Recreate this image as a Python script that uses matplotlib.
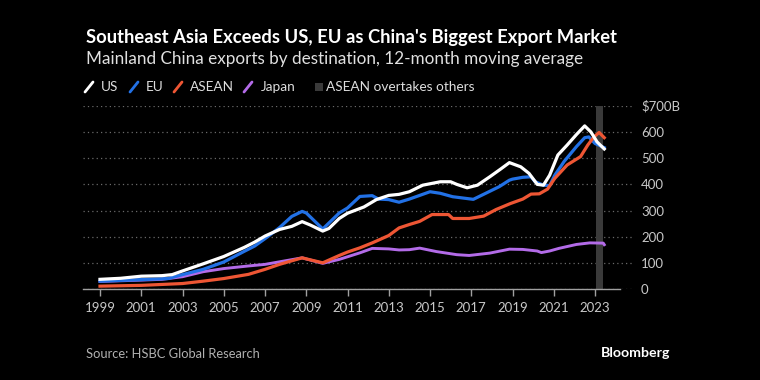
import matplotlib.pyplot as plt
from matplotlib.lines import Line2D
from matplotlib.patches import Rectangle

plt.rcParams['font.family'] = ['Lato', 'DejaVu Sans']

# values, $B (12-month moving average)
us_years = [1999.0, 2000.0, 2001.0, 2002.0, 2002.5, 2003.0, 2004.0, 2005.0, 2006.0, 2006.5,
            2007.0, 2007.7, 2008.3, 2008.8, 2009.2, 2009.8, 2010.1, 2010.6, 2011.0, 2011.8,
            2012.4, 2013.0, 2013.5, 2014.0, 2014.65, 2015.5, 2016.0, 2016.3, 2016.8, 2017.3,
            2017.9, 2018.4, 2018.85, 2019.4, 2019.8, 2020.2, 2020.5, 2020.8, 2021.2, 2021.65,
            2022.1, 2022.5, 2022.8, 2023.1, 2023.45]
us_vals = [38, 42, 50, 52, 56, 70, 97, 125, 160, 180,
           203, 228, 240, 258, 245, 222, 232, 270, 290, 314,
           342, 358, 362, 372, 397, 410, 410, 400, 387, 397,
           429, 457, 483, 467, 442, 400, 397, 435, 512, 550,
           590, 623, 600, 562, 535]

eu_years = [1999.0, 2001.0, 2002.3, 2003.0, 2004.0, 2005.0, 2006.0, 2006.5, 2007.0, 2007.7,
            2008.3, 2008.8, 2009.0, 2009.8, 2010.6, 2011.0, 2011.6, 2012.2, 2012.5, 2013.0,
            2013.5, 2014.0, 2015.0, 2015.5, 2016.1, 2016.7, 2017.1, 2017.7, 2018.35, 2018.85,
            2019.0, 2019.5, 2019.9, 2020.1, 2020.5, 2020.8, 2021.05, 2021.5, 2022.1, 2022.5,
            2022.7, 2023.0, 2023.45]
eu_vals = [31, 37, 41, 56, 76, 104, 145, 165, 193, 235,
           278, 297, 291, 230, 291, 310, 354, 357, 344, 342,
           332, 344, 372, 366, 353, 347, 343, 366, 391, 416,
           420, 427, 429, 410, 397, 395, 435, 487, 544, 578,
           581, 556, 540]

asean_years = [1999.0, 2001.0, 2003.0, 2004.0, 2005.0, 2006.2, 2007.0, 2007.7, 2008.8, 2009.0,
               2009.8, 2010.6, 2011.0, 2011.6, 2012.2, 2013.0, 2013.5, 2014.0, 2014.5, 2015.1,
               2015.9, 2016.1, 2016.9, 2017.6, 2018.2, 2018.9, 2019.5, 2019.9, 2020.3, 2020.7,
               2021.05, 2021.65, 2022.3, 2022.65, 2022.95, 2023.2, 2023.3, 2023.45]
asean_vals = [12, 15, 22, 31, 41, 57, 76, 95, 120, 116,
              101, 129, 142, 158, 177, 205, 234, 247, 259, 285,
              285, 270, 270, 279, 304, 327, 344, 363, 364, 382,
              423, 474, 506, 550, 581, 598, 590, 578]

japan_years = [1999.0, 2001.0, 2002.0, 2003.0, 2004.0, 2005.0, 2006.2, 2007.0, 2008.8, 2009.8,
               2010.6, 2011.6, 2012.2, 2013.0, 2013.5, 2014.0, 2014.5, 2015.3, 2016.3, 2016.9,
               2017.9, 2018.85, 2019.5, 2020.2, 2020.4, 2020.8, 2021.25, 2022.1, 2022.75, 2023.4,
               2023.45]
japan_vals = [30, 35, 38, 48, 67, 79, 89, 95, 120, 99,
              114, 139, 156, 154, 150, 151, 157, 144, 132, 129,
              138, 153, 152, 146, 140, 146, 156, 171, 177, 176,
              170]

band_start, band_end = 2023.03, 2023.4
year_ticks = list(range(1999, 2024, 2))
y_ticks = [0, 100, 200, 300, 400, 500, 600, 700]
y_labels = ['0', '100', '200', '300', '400', '500', '600', '$700B']

W, H = 760, 380
def fx(px):
    return px / W
def fy(py):
    return 1 - py / H

fig = plt.figure(figsize=(7.6, 3.8), dpi=100, facecolor='black')
ax = fig.add_axes([fx(83), fy(289.3), (632 - 83) / W, (289.3 - 105.7) / H])
ax.set_facecolor('black')

x0 = 1999 + (83 - 100) / 20.625
x1 = 1999 + (632 - 100) / 20.625
ax.set_xlim(x0, x1)
ax.set_ylim(0, 700)

for v in y_ticks:
    ax.axhline(v, color='#6a6a6a', lw=0.9, ls=(0, (1, 2.5)), zorder=0)
ax.axvspan(band_start, band_end, color='#3a3a3a', lw=0, zorder=1)
# bottom axis line stops short of the labels
ax.plot([x0, 1999 + (620 - 100) / 20.625], [0, 0], color='#a0a0a0', lw=1, zorder=2, clip_on=False)

ax.plot(japan_years, japan_vals, color='#b36be8', lw=2.1, zorder=3)
ax.plot(eu_years, eu_vals, color='#2271e6', lw=2.3, zorder=4)
ax.plot(asean_years, asean_vals, color='#ee5634', lw=2.3, zorder=5)
ax.plot(us_years, us_vals, color='white', lw=2.3, zorder=6)

for s in ax.spines.values():
    s.set_visible(False)
ax.set_xticks(year_ticks)
ax.set_xticklabels([str(y) for y in year_ticks])
ax.tick_params(axis='x', length=5, width=1, color='#a0a0a0', labelcolor='#c8c8c8',
               labelsize=9.5, pad=4)
ax.yaxis.tick_right()
ax.set_yticks(y_ticks)
ax.set_yticklabels(y_labels)
ax.tick_params(axis='y', length=0, labelcolor='#c8c8c8', labelsize=9.5, pad=6.5)

fig.text(fx(86), fy(37), "Southeast Asia Exceeds US, EU as China's Biggest Export Market",
         color='white', fontsize=13.2, weight='bold', va='center')
fig.text(fx(86), fy(59), "Mainland China exports by destination, 12-month moving average",
         color='#e0e0e0', fontsize=12.3, va='center')

# legend
leg_y = 87
items = [('US', 'white', 85, 101), ('EU', '#2271e6', 130, 146),
         ('ASEAN', '#ee5634', 174, 190), ('Japan', '#b36be8', 244, 261)]
for label, col, sx, tx in items:
    fig.add_artist(Line2D([fx(sx), fx(sx + 8)], [fy(leg_y + 5), fy(leg_y - 5)],
                          color=col, lw=2, solid_capstyle='round'))
    fig.text(fx(tx), fy(leg_y), label, color='#dddddd', fontsize=9.8, va='center')
fig.add_artist(Rectangle((fx(315), fy(leg_y + 4)), 8 / W, 8 / H, color='#3a3a3a', lw=0))
fig.text(fx(326), fy(leg_y), 'ASEAN overtakes others', color='#dddddd', fontsize=9.8, va='center')

fig.text(fx(86), fy(354), 'Source: HSBC Global Research', color='#b0b0b0', fontsize=9.3, va='center')
fig.text(fx(670), fy(353), 'Bloomberg', color='white', fontsize=10.2, weight='bold',
         va='center', ha='right')

fig.savefig('out.png', dpi=100, facecolor='black')
